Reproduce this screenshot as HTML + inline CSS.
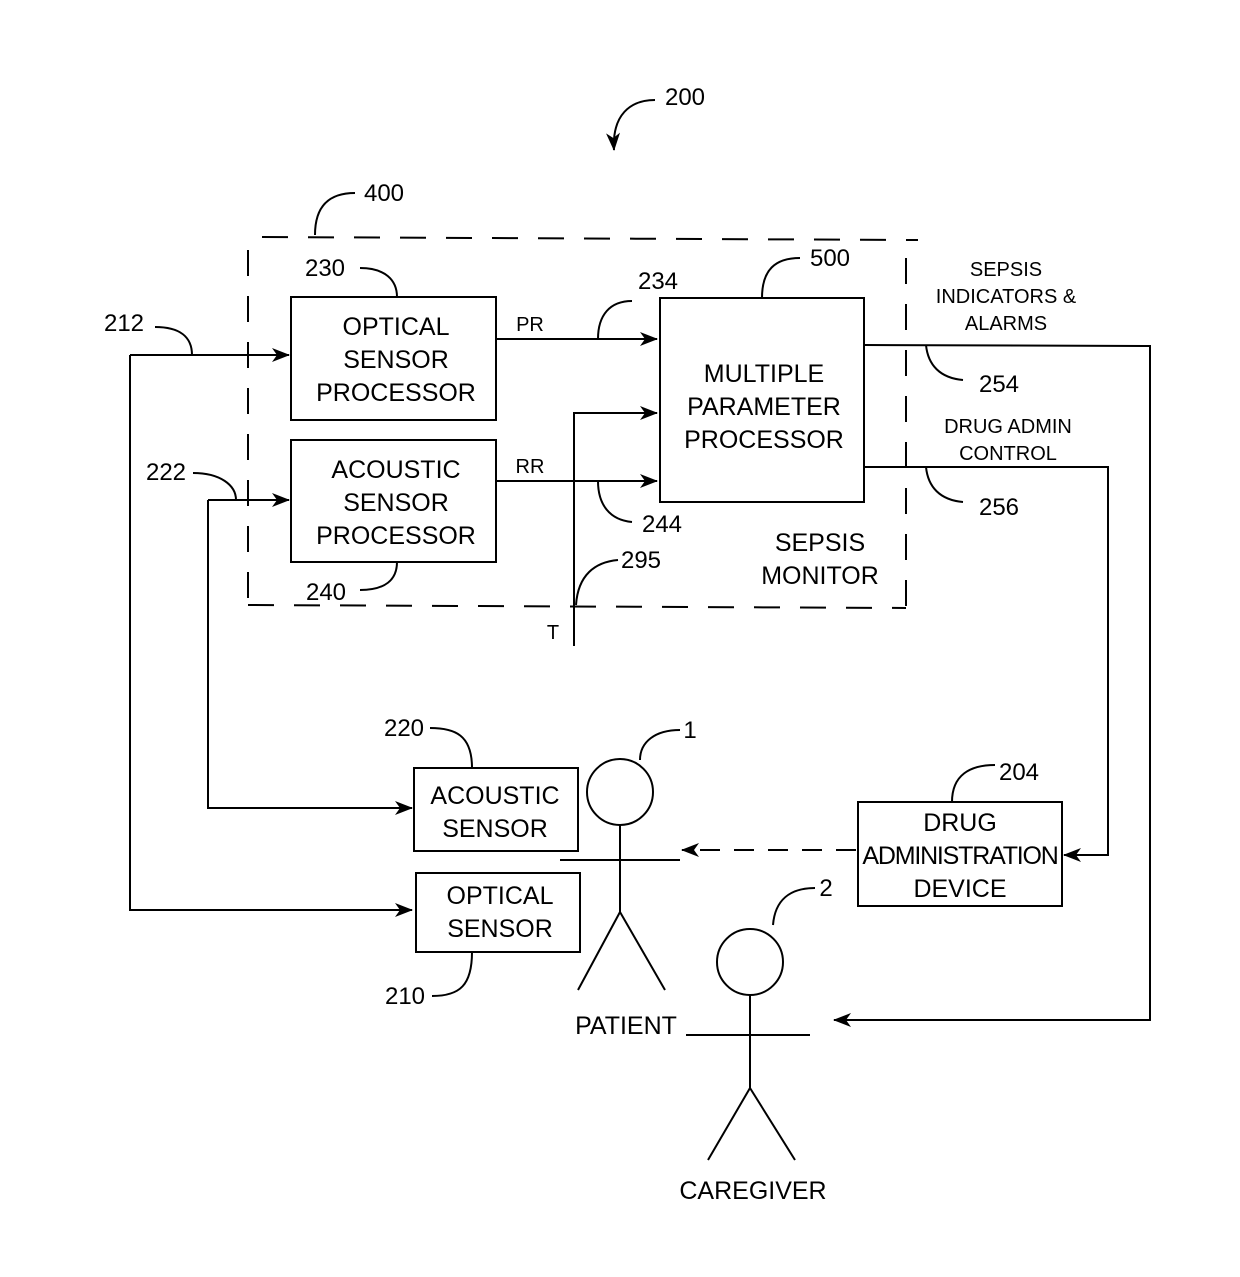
<!DOCTYPE html>
<html><head><style>body{margin:0;background:#fff}svg{display:block}text{font-family:"Liberation Sans",Arial,sans-serif;fill:#000}</style></head>
<body>
<svg width="1240" height="1277" viewBox="0 0 1240 1277" xmlns="http://www.w3.org/2000/svg">
<defs><marker id="a" markerWidth="18" markerHeight="14" refX="17" refY="7" orient="auto" markerUnits="userSpaceOnUse"><path d="M0,0 L18,7 L0,14 L5,7 Z" fill="#000"/></marker></defs>
<g fill="none" stroke="#000" stroke-width="2">
<path d="M655,100 C630,100 612,115 614,150" marker-end="url(#a)"/>
<path d="M262,237 L918,240 M906,258 L906,608 M248,605 L906,608 M248,250 L248,605" stroke-dasharray="26,20"/>
<path d="M355,193 C330,193 315,205 315,235"/>
<rect x="291" y="297" width="205" height="123"/>
<rect x="291" y="440" width="205" height="122"/>
<rect x="660" y="298" width="204" height="204"/>
<rect x="414" y="768" width="164" height="83"/>
<rect x="416" y="873" width="164" height="79"/>
<rect x="858" y="802" width="204" height="104"/>
<path d="M496,339 L657,339" marker-end="url(#a)"/>
<path d="M496,481 L657,481" marker-end="url(#a)"/>
<path d="M574,646 L574,413 L657,413" marker-end="url(#a)"/>
<path d="M130,355 L289,355" marker-end="url(#a)"/>
<path d="M130,355 L130,910 L412,910" marker-end="url(#a)"/>
<path d="M208,500 L289,500" marker-end="url(#a)"/>
<path d="M208,500 L208,808 L412,808" marker-end="url(#a)"/>
<path d="M864,345 L1150,346 L1150,1020 L834,1020" marker-end="url(#a)"/>
<path d="M864,467 L1108,467 L1108,855 L1064,855" marker-end="url(#a)"/>
<path d="M856,850 L682,850" stroke-dasharray="20,14" marker-end="url(#a)"/>
<path d="M360,268 C385,268 397,280 397,297"/>
<path d="M155,327 C180,327 192,337 192,355"/>
<path d="M193,473 C220,473 236,485 236,500"/>
<path d="M632,301 C610,301 598,315 598,339"/>
<path d="M598,481 C598,505 610,520 632,522"/>
<path d="M618,560 C595,562 578,575 576,605"/>
<path d="M800,258 C775,258 762,270 762,298"/>
<path d="M926,345 C928,365 940,378 963,380"/>
<path d="M926,467 C928,487 940,500 963,502"/>
<path d="M360,590 C385,590 397,580 397,562"/>
<path d="M430,728 C455,728 472,735 472,768"/>
<path d="M432,996 C460,996 472,985 472,952"/>
<path d="M680,730 C655,730 640,742 640,760"/>
<path d="M995,765 C970,765 952,775 952,802"/>
<path d="M815,888 C790,888 775,900 773,925"/>
<circle cx="620" cy="792" r="33"/>
<path d="M620,825 L620,912 M560,860 L680,860 M620,912 L578,990 M620,912 L665,990"/>
<circle cx="750" cy="962" r="33"/>
<path d="M750,995 L750,1088 M686,1035 L810,1035 M750,1088 L708,1160 M750,1088 L795,1160"/>
</g>
<g font-size="24" text-anchor="middle">
<text x="685" y="105">200</text>
<text x="384" y="201">400</text>
<text x="325" y="276">230</text>
<text x="124" y="331">212</text>
<text x="166" y="480">222</text>
<text x="658" y="289">234</text>
<text x="830" y="266">500</text>
<text x="662" y="532">244</text>
<text x="641" y="568">295</text>
<text x="326" y="600">240</text>
<text x="999" y="392">254</text>
<text x="999" y="515">256</text>
<text x="404" y="736">220</text>
<text x="690" y="738">1</text>
<text x="1019" y="780">204</text>
<text x="826" y="896">2</text>
<text x="405" y="1004">210</text>
</g>
<g font-size="25" text-anchor="middle">
<text x="396" y="335">OPTICAL</text>
<text x="396" y="368">SENSOR</text>
<text x="396" y="401">PROCESSOR</text>
<text x="396" y="478">ACOUSTIC</text>
<text x="396" y="511">SENSOR</text>
<text x="396" y="544">PROCESSOR</text>
<text x="764" y="382">MULTIPLE</text>
<text x="764" y="415">PARAMETER</text>
<text x="764" y="448">PROCESSOR</text>
<text x="820" y="551">SEPSIS</text>
<text x="820" y="584">MONITOR</text>
<text x="495" y="804">ACOUSTIC</text>
<text x="495" y="837">SENSOR</text>
<text x="500" y="904">OPTICAL</text>
<text x="500" y="937">SENSOR</text>
<text x="960" y="831">DRUG</text>
<text x="960" y="864" letter-spacing="-1.2">ADMINISTRATION</text>
<text x="960" y="897">DEVICE</text>
<text x="626" y="1034">PATIENT</text>
<text x="753" y="1199">CAREGIVER</text>
</g>
<g font-size="20" text-anchor="middle">
<text x="530" y="331">PR</text>
<text x="530" y="473">RR</text>
<text x="553" y="639">T</text>
<text x="1006" y="276">SEPSIS</text>
<text x="1006" y="303">INDICATORS &amp;</text>
<text x="1006" y="330">ALARMS</text>
<text x="1008" y="433">DRUG ADMIN</text>
<text x="1008" y="460">CONTROL</text>
</g>
</svg>
</body></html>
